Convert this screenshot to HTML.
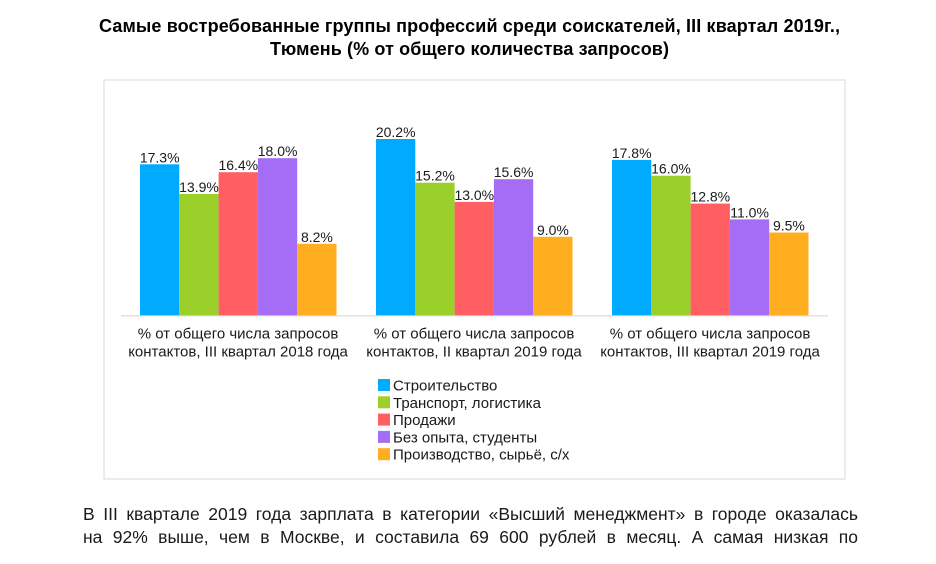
<!DOCTYPE html>
<html>
<head>
<meta charset="utf-8">
<style>
  html, body { margin: 0; padding: 0; background: #ffffff; }
  body { width: 936px; height: 564px; position: relative; overflow: hidden; font-family: "Liberation Sans", Arial, sans-serif; }
  svg { position: absolute; left: 0; top: 0; }
  .para { position: absolute; left: 83px; width: 775px; top: 503px; font-size: 17.5px; line-height: 23px; color: #1a1a1a; }
  .para div { text-align: justify; text-align-last: justify; white-space: nowrap; }
</style>
</head>
<body>
<svg width="936" height="564" viewBox="0 0 936 564" xmlns="http://www.w3.org/2000/svg" font-family="Liberation Sans, Arial, sans-serif">
  <!-- Title -->
  <text x="469.5" y="32" text-anchor="middle" font-size="18" font-weight="bold" fill="#000" textLength="741" lengthAdjust="spacing">Самые востребованные группы профессий среди соискателей, III квартал 2019г.,</text>
  <text x="469.5" y="55" text-anchor="middle" font-size="18" font-weight="bold" fill="#000" textLength="399" lengthAdjust="spacing">Тюмень (% от общего количества запросов)</text>

  <!-- Frame -->
  <rect x="104" y="80" width="741" height="399" fill="#fff" stroke="#d9d9d9" stroke-width="1"/>

  <!-- Group 1 -->
  <rect x="140" y="164.3" width="39.3" height="151.2" fill="#00AAFF"/>
  <rect x="179.3" y="194.0" width="39.3" height="121.5" fill="#9BCF2A"/>
  <rect x="218.6" y="172.2" width="39.3" height="143.3" fill="#FF5F63"/>
  <rect x="257.9" y="158.2" width="39.3" height="157.3" fill="#A56CF6"/>
  <rect x="297.2" y="243.8" width="39.3" height="71.7" fill="#FFAE20"/>

  <!-- Group 2 -->
  <rect x="376" y="139.0" width="39.3" height="176.5" fill="#00AAFF"/>
  <rect x="415.3" y="182.7" width="39.3" height="132.8" fill="#9BCF2A"/>
  <rect x="454.6" y="201.9" width="39.3" height="113.6" fill="#FF5F63"/>
  <rect x="493.9" y="179.2" width="39.3" height="136.3" fill="#A56CF6"/>
  <rect x="533.2" y="236.8" width="39.3" height="78.7" fill="#FFAE20"/>

  <!-- Group 3 -->
  <rect x="612" y="159.9" width="39.3" height="155.6" fill="#00AAFF"/>
  <rect x="651.3" y="175.7" width="39.3" height="139.8" fill="#9BCF2A"/>
  <rect x="690.6" y="203.6" width="39.3" height="111.9" fill="#FF5F63"/>
  <rect x="729.9" y="219.4" width="39.3" height="96.1" fill="#A56CF6"/>
  <rect x="769.2" y="232.5" width="39.3" height="83.0" fill="#FFAE20"/>

  <!-- Axis -->
  <line x1="121" y1="315.8" x2="828" y2="315.8" stroke="#d9d9d9" stroke-width="1.2"/>

  <!-- Data labels -->
  <g font-size="14" fill="#1a1a1a" text-anchor="middle">
    <text x="159.7" y="162.3">17.3%</text>
    <text x="199.0" y="192.0">13.9%</text>
    <text x="238.3" y="170.2">16.4%</text>
    <text x="277.6" y="156.2">18.0%</text>
    <text x="316.9" y="241.8">8.2%</text>

    <text x="395.7" y="137.0">20.2%</text>
    <text x="435.0" y="180.7">15.2%</text>
    <text x="474.3" y="199.9">13.0%</text>
    <text x="513.6" y="177.2">15.6%</text>
    <text x="552.9" y="234.8">9.0%</text>

    <text x="631.7" y="157.9">17.8%</text>
    <text x="671.0" y="173.7">16.0%</text>
    <text x="710.3" y="201.6">12.8%</text>
    <text x="749.6" y="217.4">11.0%</text>
    <text x="788.9" y="230.5">9.5%</text>
  </g>

  <!-- Category labels -->
  <g font-size="15" fill="#1a1a1a" text-anchor="middle">
    <text x="238" y="338.5">% от общего числа запросов</text>
    <text x="238" y="356.5">контактов, III квартал 2018 года</text>
    <text x="474" y="338.5">% от общего числа запросов</text>
    <text x="474" y="356.5">контактов, II квартал 2019 года</text>
    <text x="710" y="338.5">% от общего числа запросов</text>
    <text x="710" y="356.5">контактов, III квартал 2019 года</text>
  </g>

  <!-- Legend -->
  <g font-size="15" fill="#1a1a1a">
    <rect x="378" y="379" width="12" height="12" fill="#00AAFF"/>
    <text x="393" y="390.5">Строительство</text>
    <rect x="378" y="396.3" width="12" height="12" fill="#9BCF2A"/>
    <text x="393" y="407.8">Транспорт, логистика</text>
    <rect x="378" y="413.6" width="12" height="12" fill="#FF5F63"/>
    <text x="393" y="425.1">Продажи</text>
    <rect x="378" y="430.9" width="12" height="12" fill="#A56CF6"/>
    <text x="393" y="442.4">Без опыта, студенты</text>
    <rect x="378" y="448.2" width="12" height="12" fill="#FFAE20"/>
    <text x="393" y="459.7">Производство, сырьё, с/х</text>
  </g>
</svg>

<div class="para">
  <div>В III квартале 2019 года зарплата в категории «Высший менеджмент» в городе оказалась</div>
  <div>на 92% выше, чем в Москве, и составила 69&nbsp;600 рублей в месяц. А самая низкая по</div>
</div>
</body>
</html>
